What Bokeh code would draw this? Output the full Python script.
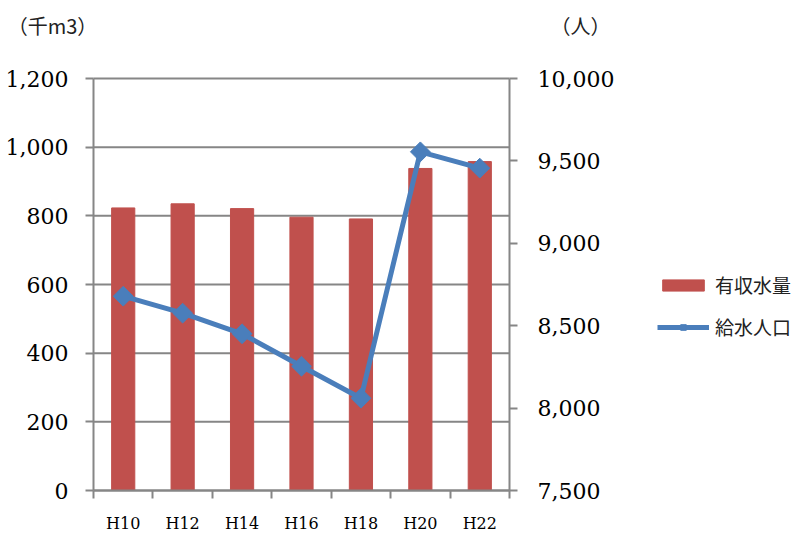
from bokeh.plotting import figure
from bokeh.models import (Range1d, LinearAxis, FixedTicker, NumeralTickFormatter,
                          Legend, LegendItem, Label)
from bokeh.embed import file_html
from bokeh.resources import INLINE

categories = ["H10", "H12", "H14", "H16", "H18", "H20", "H22"]
water = [823, 835, 821, 796, 791, 938, 958]               # 有収水量 (千m3)
population = [8679, 8576, 8451, 8254, 8060, 9555, 9456]   # 給水人口 (人)
left_ticks = [0, 200, 400, 600, 800, 1000, 1200]
right_ticks = [7500, 8000, 8500, 9000, 9500, 10000]

xs = [i + 0.5 for i in range(len(categories))]
bounds = list(range(len(categories) + 1))
n = len(categories)

GRAY = "#868686"
RED = "#C0504D"
BLUE = "#4A7EBB"
SERIF = "DejaVu Serif"
JP = "Noto Sans CJK JP"

# canvas / plot-area geometry (pixels)
W, H = 798, 533
PL, PR, PT, PB = 93, 509, 78, 490

def x_px_to_data(px):
    return (px - PL) / (PR - PL) * n

def yl_px_to_data(py):
    lo, hi = left_ticks[0], left_ticks[-1]
    return lo + (PB - py) / (PB - PT) * (hi - lo)

def yr_px_to_data(py):
    lo, hi = right_ticks[0], right_ticks[-1]
    return lo + (PB - py) / (PB - PT) * (hi - lo)

p = figure(width=W, height=H, output_backend="svg", toolbar_location=None,
           x_range=Range1d(x_px_to_data(0), x_px_to_data(W)),
           y_range=Range1d(yl_px_to_data(H), yl_px_to_data(0)),
           min_border=0, x_axis_type=None, y_axis_type=None)
p.extra_y_ranges = {"pop": Range1d(yr_px_to_data(H), yr_px_to_data(0))}
p.outline_line_color = None
p.xgrid.visible = False
p.ygrid.visible = False
p.background_fill_color = "white"
p.border_fill_color = "white"

# horizontal gridlines across the plot area only
p.segment(x0=[0] * len(left_ticks), x1=[n] * len(left_ticks), y0=left_ticks, y1=left_ticks,
          line_color=GRAY, line_width=2)

bars = p.vbar(x=xs, top=water, width=0.39, bottom=0, fill_color=RED, line_color=RED)
line = p.line(x=xs, y=population, y_range_name="pop", line_color=BLUE, line_width=5,
              line_join="round")
pts = p.scatter(x=xs, y=population, y_range_name="pop", marker="square", size=14,
                angle=45, angle_units="deg", fill_color=BLUE, line_color=BLUE)

# x axis: labels at centers, ticks at category boundaries
xaxis = LinearAxis(ticker=FixedTicker(ticks=xs, minor_ticks=bounds),
                   major_label_overrides={x: c for x, c in zip(xs, categories)},
                   fixed_location=0, bounds=(0, n))
xaxis.major_tick_out = 0
xaxis.major_tick_in = 0
xaxis.minor_tick_out = 8
xaxis.minor_tick_in = 0
xaxis.minor_tick_line_color = GRAY
xaxis.minor_tick_line_width = 2
xaxis.axis_line_color = GRAY
xaxis.axis_line_width = 2
xaxis.major_label_standoff = 15
xaxis.major_label_text_font = SERIF
xaxis.major_label_text_font_size = "16px"
xaxis.major_label_text_color = "black"
p.add_layout(xaxis, "below")

laxis = LinearAxis(ticker=FixedTicker(ticks=left_ticks), formatter=NumeralTickFormatter(format="0,0"),
                   fixed_location=0, bounds=(left_ticks[0], left_ticks[-1]))
laxis.major_tick_out = 8
laxis.major_tick_in = 0
laxis.minor_tick_out = 0
laxis.minor_tick_in = 0
laxis.major_tick_line_color = GRAY
laxis.major_tick_line_width = 2
laxis.axis_line_color = GRAY
laxis.axis_line_width = 2
laxis.major_label_standoff = 17
laxis.major_label_text_font = SERIF
laxis.major_label_text_font_size = "22px"
laxis.major_label_text_color = "black"
p.add_layout(laxis, "left")

raxis = LinearAxis(y_range_name="pop", ticker=FixedTicker(ticks=right_ticks),
                   formatter=NumeralTickFormatter(format="0,0"),
                   fixed_location=n, bounds=(right_ticks[0], right_ticks[-1]))
raxis.major_tick_out = 8
raxis.major_tick_in = 0
raxis.minor_tick_out = 0
raxis.minor_tick_in = 0
raxis.major_tick_line_color = GRAY
raxis.major_tick_line_width = 2
raxis.axis_line_color = GRAY
raxis.axis_line_width = 2
raxis.major_label_standoff = 20
raxis.major_label_text_font = SERIF
raxis.major_label_text_font_size = "22px"
raxis.major_label_text_color = "black"
p.add_layout(raxis, "right")

legend = Legend(items=[LegendItem(label="有収水量", renderers=[bars]),
                       LegendItem(label="給水人口", renderers=[line, pts])],
                location=(657, H - 340), orientation="vertical")
legend.border_line_color = None
legend.background_fill_alpha = 0
legend.padding = 0
legend.margin = 0
legend.spacing = 15
legend.glyph_width = 52
legend.glyph_height = 14
legend.label_standoff = 6
legend.label_text_font = JP
legend.label_text_font_size = "19px"
legend.label_text_color = "#222222"
p.add_layout(legend)

p.add_layout(Label(x=x_px_to_data(52), y=yl_px_to_data(25), text="（千m3）", text_font=JP,
                   text_font_size="20px", text_align="center", text_baseline="middle",
                   text_color="#222222"))
p.add_layout(Label(x=x_px_to_data(580), y=yl_px_to_data(25), text="（人）", text_font=JP,
                   text_font_size="20px", text_align="center", text_baseline="middle",
                   text_color="#222222"))

open("out.html", "w").write(file_html(p, INLINE))
